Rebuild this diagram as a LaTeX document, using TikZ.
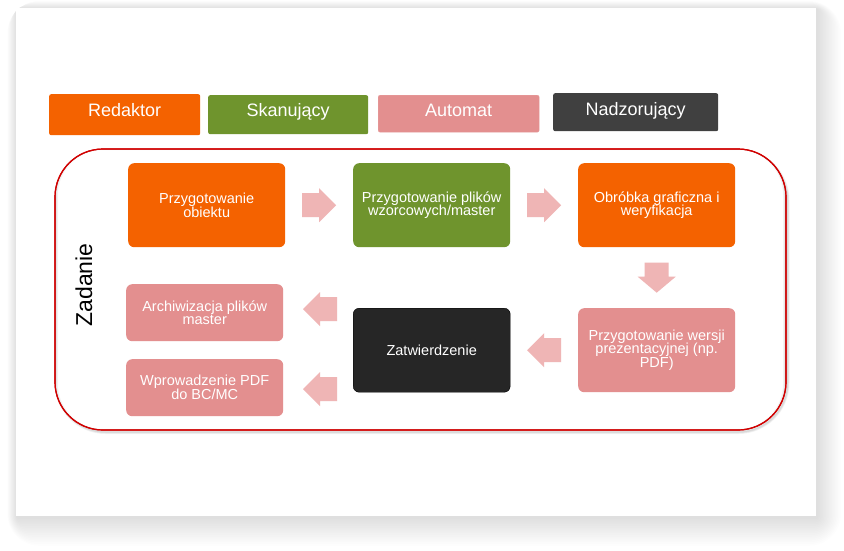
\documentclass[tikz,border=0pt]{standalone}
\usepackage{fontspec}
\setmainfont{Liberation Sans}
\definecolor{orng}{RGB}{244,98,0}
\definecolor{grn}{RGB}{111,148,45}
\definecolor{pnk}{RGB}{227,143,143}
\definecolor{dgray}{RGB}{64,64,64}
\definecolor{blk}{RGB}{38,38,38}
\definecolor{arrc}{RGB}{239,181,181}
\definecolor{redb}{RGB}{210,0,0}
\begin{document}
\begin{tikzpicture}[x=1pt,y=-1pt,
  legbox/.style={inner xsep=0pt, inner ysep=0pt, rounded corners=2pt, text=white,
     font=\fontsize{18}{18}\selectfont},
  stepbox/.style={inner sep=0pt, rounded corners=6pt, text=white, align=center,
     minimum width=157pt, minimum height=84pt, font=\fontsize{14.5}{13.8}\selectfont},
  smallbox/.style={stepbox, minimum height=57pt},
  rarrow/.pic={\fill[arrc] (-17,-12) -- (0,-12) -- (0,-17) -- (17,0) -- (0,17) -- (0,12) -- (-17,12) -- cycle;},
  larrow/.pic={\fill[arrc] (17,-12) -- (0,-12) -- (0,-17) -- (-17,0) -- (0,17) -- (0,12) -- (17,12) -- cycle;},
  darrow/.pic={\fill[arrc] (-12,-15) -- (-12,-1) -- (-19,-1) -- (0,15) -- (19,-1) -- (12,-1) -- (12,-15) -- cycle;}
]
\useasboundingbox (0,0) rectangle (844,550);
\fill[white] (0,0) rectangle (844,550);
% page shadow
\foreach \i in {1,...,16}
  \fill[black, opacity=0.007, rounded corners={2*\i}] ({17-0.6*\i},{9-0.5*\i}) rectangle ({817+1.5*\i},{517+1.8*\i});
\fill[white] (16,8) rectangle (816,516);
% task frame
\foreach \i in {1,...,4}
  \draw[black, opacity=0.04, line width=\i pt, rounded corners=49pt] (56.5,151) rectangle (787.5,432);
\draw[redb, line width=1.2pt, fill=white, rounded corners=48pt] (55,149) rectangle (786,430);
\begin{scope}
  \clip[rounded corners=48pt] (55,149) rectangle (786,430);
  \foreach \i in {1,...,4}
    \draw[black, opacity=0.04, line width={1.5*\i pt}, rounded corners=48pt] (55,147) rectangle (786,432);
\end{scope}
\draw[redb, line width=1.2pt, rounded corners=48pt] (55,149) rectangle (786,430);
\node[rotate=90, font=\fontsize{23}{23}\selectfont] (zad) at (84,285) {Zadanie};
% legend
\node[legbox, fill=orng, minimum width=151pt, text height=22pt, text depth=19pt, anchor=north west] (red) at (49,94) {Redaktor};
\node[legbox, fill=grn, minimum width=160pt, text height=21pt, text depth=18pt, anchor=north west] (ska) at (208,95) {Skanujący};
\node[legbox, fill=pnk, draw=pnk!85!white, minimum width=161pt, text height=21pt, text depth=16pt, anchor=north west] (aut) at (378,95) {Automat};
\node[legbox, fill=dgray, minimum width=165pt, text height=22pt, text depth=16pt, anchor=north west] (nad) at (553,93) {Nadzorujący};
% steps
\node[stepbox, fill=orng, anchor=north west] (s1) at (128,163) {Przygotowanie\\obiektu};
\node[stepbox, fill=grn, anchor=north west] (s2) at (353,163) {Przygotowanie plików\\wzorcowych/master};
\node[stepbox, fill=orng, anchor=north west] (s3) at (578,163) {Obróbka graficzna i\\weryfikacja};
\node[stepbox, fill=pnk, anchor=north west] (s4) at (578,308) {Przygotowanie wersji\\prezentacyjnej (np.\\PDF)};
\node[stepbox, fill=blk, draw=black, anchor=north west] (s5) at (353,308) {Zatwierdzenie};
\node[smallbox, fill=pnk, anchor=north west] (s6) at (126,284) {Archiwizacja plików\\master};
\node[smallbox, fill=pnk, anchor=north west] (s7) at (126,359) {Wprowadzenie PDF\\do BC/MC};
% block arrows
\path (s1.east) -- (s2.west) coordinate[pos=0.5] (a1);
\path (s2.east) -- (s3.west) coordinate[pos=0.5] (a2);
\pic at (a1) {rarrow};
\pic at (a2) {rarrow};
\path (s3.south) -- (s4.north) coordinate[pos=0.5] (a3);
\pic at (a3) {darrow};
\path (s4.west) -- (s5.east) coordinate[pos=0.5] (a4);
\pic at (a4) {larrow};
\coordinate (a5) at (320,309);
\coordinate (a6) at (320,389);
\pic at (a5) {larrow};
\pic at (a6) {larrow};
\end{tikzpicture}
\end{document}
